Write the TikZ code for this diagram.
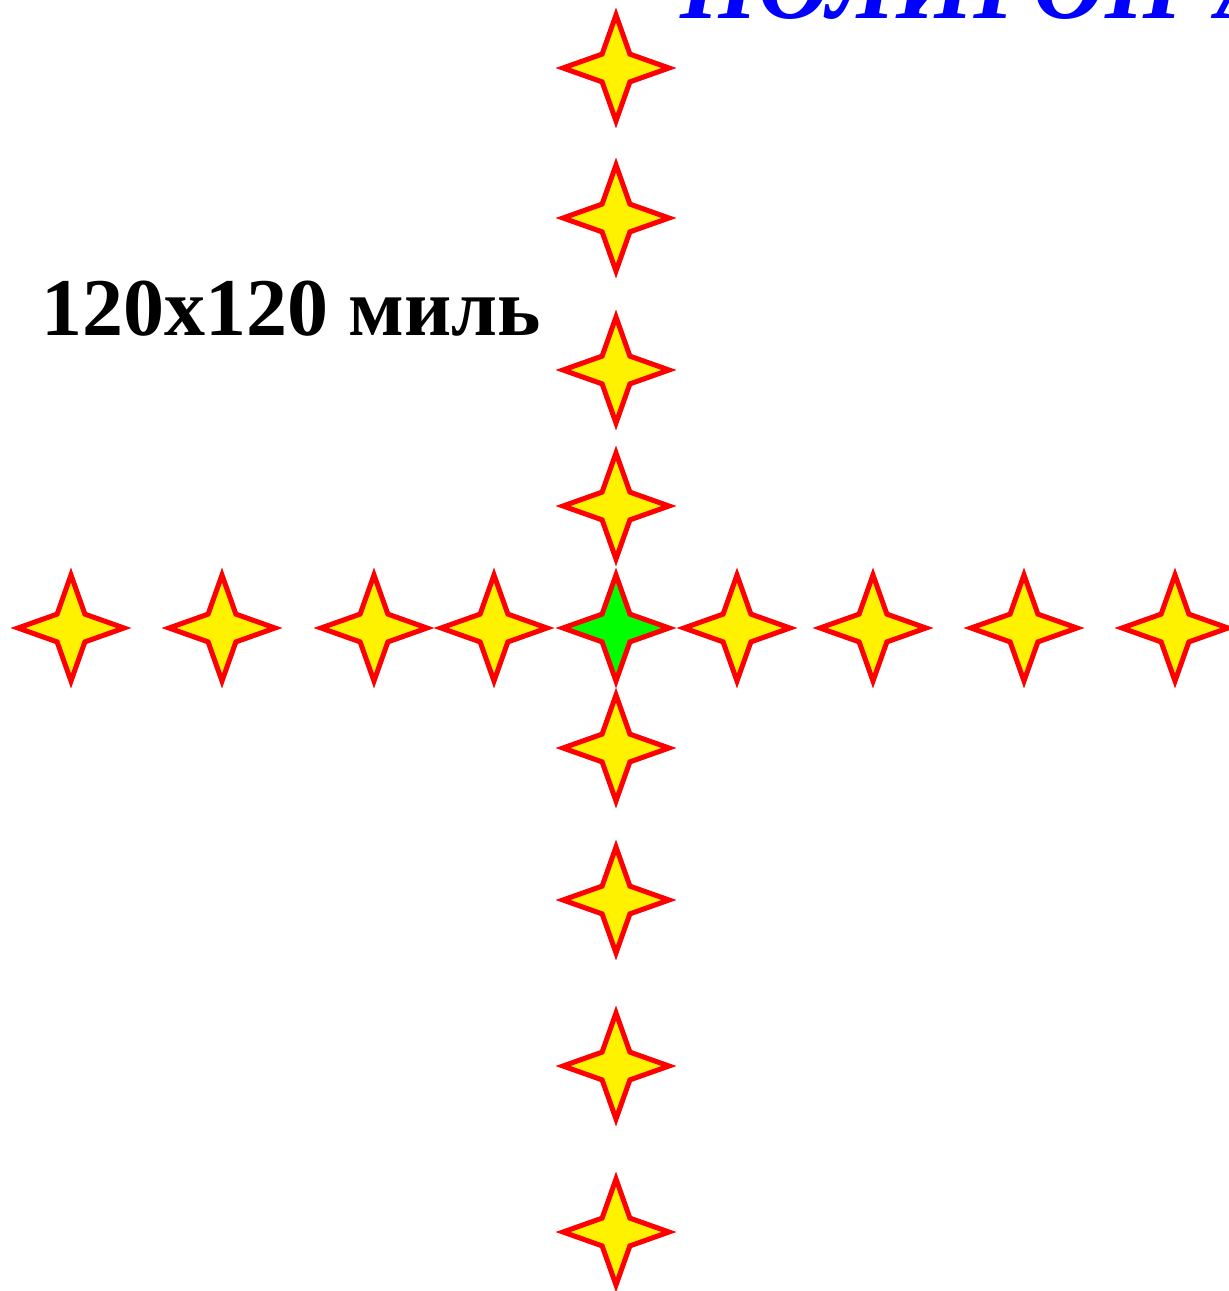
\documentclass[tikz,border=0pt]{standalone}
\usepackage{fontspec}
\setmainfont{Liberation Serif}
\usetikzlibrary{shapes.geometric}

\begin{document}
\begin{tikzpicture}[x=1pt, y=-1pt,
  spark/.style={star, star points=4, star point ratio=2.7, minimum size=106pt,
    inner sep=0pt, draw=red, line width=5pt, fill=yellow}]
  \useasboundingbox (0,0) rectangle (1229,1291);
  % vertical line of stars
  \foreach \y [count=\i] in {68,218,370,506,748,900,1066,1232}
    \node[spark] (v\i) at (616,\y) {};
  % horizontal line of stars
  \foreach \x [count=\i] in {71,222,374,494,737,873,1024,1175}
    \node[spark] (h\i) at (\x,628) {};
  \node[spark, fill=green] (centre) at (616,628) {};
  % labels
  \node[anchor=base west, inner sep=0pt, text=blue, font=\fontsize{100}{110}\selectfont\bfseries\itshape]
    (title) at (680,18) {ПОЛИГОН-А};
  \node[anchor=base west, inner sep=0pt, font=\fontsize{82}{90}\selectfont\bfseries]
    (size) at (41,335) {120x120 миль};
\end{tikzpicture}
\end{document}
